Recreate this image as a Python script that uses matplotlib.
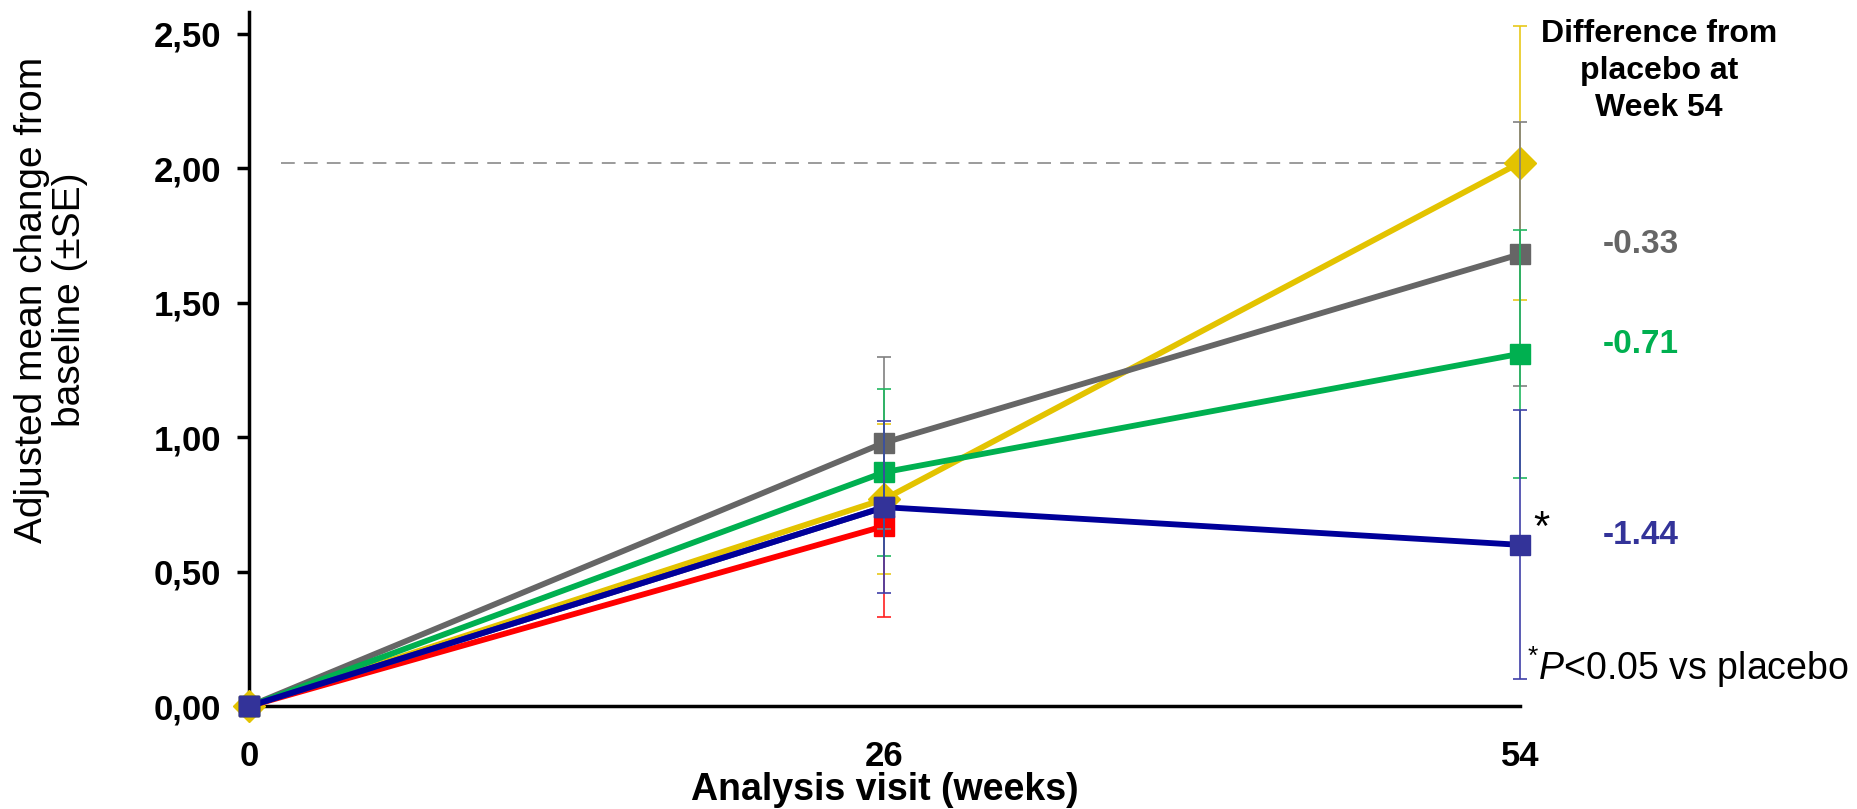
import numpy as np
import matplotlib.pyplot as plt

# data (adjusted mean change from baseline, +-SE)
weeks = ['0', '26', '54']
placebo = [0.0, 0.77, 2.02]
placebo_se = [0.0, 0.28, 0.51]
grey = [0.0, 0.98, 1.68]
grey_se = [0.0, 0.32, 0.49]
green = [0.0, 0.87, 1.31]
green_se = [0.0, 0.31, 0.46]
blue = [0.0, 0.74, 0.60]
blue_se = [0.0, 0.32, 0.50]
red = [0.0, 0.67]
red_se = [0.0, 0.34]

diff_labels = ['-0.33', '-0.71', '-1.44']
yticks = [0.0, 0.5, 1.0, 1.5, 2.0, 2.5]

plt.rcParams['font.family'] = ['Liberation Sans', 'DejaVu Sans']
plt.rcParams['mathtext.fontset'] = 'custom'
plt.rcParams['mathtext.rm'] = 'Liberation Sans'
plt.rcParams['mathtext.it'] = 'Liberation Sans:italic'

fig = plt.figure(figsize=(18.58, 8.09), dpi=100)
ax = fig.add_axes([0.134, 0.127, 0.684, 0.858])

x = np.arange(len(weeks))

def series(y, se, col, ecol, marker, ms, z, lcol=None):
    n = len(y)
    ax.errorbar(x[:n], y, yerr=se, color=lcol or col, ecolor=ecol, elinewidth=1.2,
                capsize=5, capthick=1.2, lw=4.2, marker=marker, markersize=ms,
                markerfacecolor=col, markeredgecolor=col, clip_on=False, zorder=z)

series(placebo, placebo_se, '#E3C300', '#E8C81A', 'D', 16, 3)
series(red, red_se, '#FF0000', '#FF2020', 's', 15, 4)
series(grey, grey_se, '#666666', '#808080', 's', 15, 5)
series(green, green_se, '#00B050', '#20B860', 's', 15, 6)
series(blue, blue_se, '#333399', '#4040A8', 's', 15, 7, lcol='#000099')
# first blue segment is drawn a little lighter in the original
ax.plot(x[:2], blue[:2], color='#333399', lw=4.2, zorder=7, clip_on=False)
ax.plot(x[:2], blue[:2], ls='none', marker='s', markersize=15, color='#333399',
        zorder=8, clip_on=False)

# placebo reference line at week 54
ax.hlines(placebo[2], 0.05, x[-1], colors='#808080', linestyles=(0, (9, 6)), lw=1.1, zorder=1)

ax.set_xlim(0, 2)
ax.set_ylim(0, 2.58)
ax.set_yticks(yticks)
ax.set_yticklabels([f'{v:.2f}'.replace('.', ',') for v in yticks], fontsize=25, fontweight='bold')
ax.set_xticks(x)
ax.set_xticklabels(weeks, fontsize=25, fontweight='bold')
ax.set_xticks([2], minor=True)
ax.tick_params(axis='x', which='major', length=0, pad=24)
ax.tick_params(axis='x', which='minor', length=9, width=2.5)
ax.tick_params(axis='y', length=9, width=2.5, pad=11)

for s in ['top', 'right']:
    ax.spines[s].set_visible(False)
for s in ['left', 'bottom']:
    ax.spines[s].set_linewidth(2.5)

ax.set_ylabel('Adjusted mean change from\nbaseline (±SE)', fontsize=28, linespacing=1.05)
ax.yaxis.set_label_coords(-0.127, 0.585)
ax.set_xlabel('Analysis visit (weeks)', fontsize=27, fontweight='bold')
ax.xaxis.set_label_coords(0.5, -0.094)

# annotations on the right
ax.text(2.219, 2.555, 'Difference from\nplacebo at\nWeek 54', ha='center', va='top',
        fontsize=23, fontweight='bold', linespacing=1.3, clip_on=False)
for lab, val, col in zip(diff_labels, [grey[2], green[2], blue[2]], ['#666666', '#00B050', '#333399']):
    ax.text(2.13, val + 0.035, lab, ha='left', va='center', fontsize=24,
            fontweight='bold', color=col, clip_on=False)
ax.text(2.021, blue[2] + 0.06, '*', ha='left', va='center', fontsize=30, clip_on=False)
ax.text(2.012, 0.145, r'$^{*}\mathit{P}$<0.05 vs placebo', ha='left', va='center',
        fontsize=27, clip_on=False)

plt.savefig('out.png', dpi=100)
